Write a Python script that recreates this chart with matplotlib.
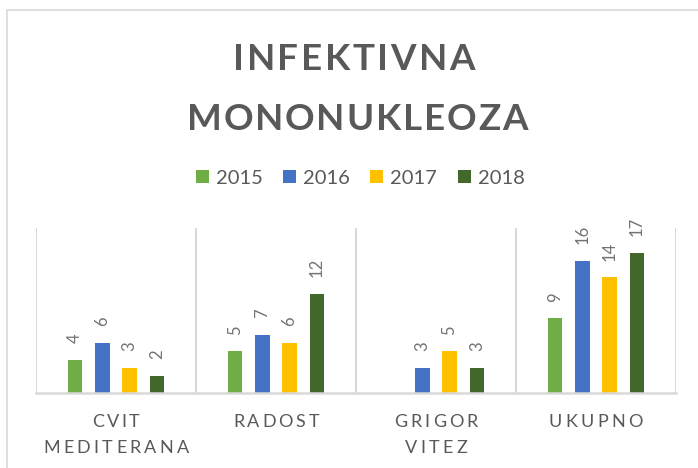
import numpy as np
import matplotlib
matplotlib.use("Agg")
import matplotlib.pyplot as plt
from matplotlib.patches import Rectangle

# data
categories = [["CVIT", "MEDITERANA"], ["RADOST"], ["GRIGOR", "VITEZ"], ["UKUPNO"]]
years = ["2015", "2016", "2017", "2018"]
v2015 = [4, 5, None, 9]
v2016 = [6, 7, 3, 16]
v2017 = [3, 6, 5, 14]
v2018 = [2, 12, 3, 17]
series = [v2015, v2016, v2017, v2018]
colors = ["#70AD47", "#4472C4", "#FFC000", "#43682B"]

W, H = 698, 468
GRAY = "#595959"
LABEL_GRAY = "#737373"
LINE = "#D9D9D9"
plt.rcParams['font.family'] = ['Lato', 'DejaVu Sans']

fig = plt.figure(figsize=(W / 100, H / 100), dpi=100)
renderer = fig.canvas.get_renderer()


def spaced_text(cx, y_base, s, target_w, **kw):
    """Draw letter-spaced text centred on cx (pixels) with baseline y_base (pixels from top)."""
    widths = []
    for ch in s:
        t = fig.text(0, 0, ch, **kw)
        widths.append(t.get_window_extent(renderer).width)
        t.remove()
    gap = (target_w - sum(widths)) / max(len(s) - 1, 1)
    x = cx - target_w / 2
    for ch, w in zip(s, widths):
        fig.text(x / W, 1 - y_base / H, ch, ha='left', va='baseline', **kw)
        x += w + gap


# chart frame (extends past the right/bottom edge like the reference crop)
fig.patches.append(Rectangle((6.5 / W, -0.1), 1.2, 1 - 9.5 / H + 0.1,
                             transform=fig.transFigure, fill=False,
                             edgecolor=LINE, linewidth=1.2))

# title
spaced_text(354, 70, "INFEKTIVNA", 242, fontsize=26.5, fontweight='bold', color=GRAY)
spaced_text(357, 130, "MONONUKLEOZA", 341, fontsize=26.5, fontweight='bold', color=GRAY)

# legend
leg_x = [196, 283, 370, 458]
for lx, yr, c in zip(leg_x, years, colors):
    fig.patches.append(Rectangle((lx / W, 1 - 183 / H), 13 / W, 13 / H,
                                 transform=fig.transFigure, facecolor=c, edgecolor='none'))
    fig.text((lx + 20) / W, 1 - 184 / H, yr, ha='left', va='baseline',
             fontsize=14.5, color=GRAY)

# plot area
ax = fig.add_axes([36 / W, (H - 392.5) / H, 640 / W, (392.5 - 228) / H])
n = len(series)
step = 0.17
bw = 0.09
x = np.arange(len(categories))
for i, (vals, c) in enumerate(zip(series, colors)):
    for xi, v in zip(x, vals):
        if v is None:
            continue
        xp = xi + (i - (n - 1) / 2) * step
        ax.bar(xp, v, width=bw, color=c, zorder=3)
        ax.annotate(str(v), (xp, v), xytext=(0, 12), textcoords='offset points',
                    rotation=90, ha='center', va='bottom', fontsize=12,
                    color=LABEL_GRAY)

ax.set_xlim(-0.5, len(categories) - 0.5)
ax.set_ylim(0, 20)
for b in np.arange(-0.5, len(categories), 1.0):
    ax.axvline(b, color=LINE, linewidth=1.5, zorder=1)
ax.axhline(0, color=LINE, linewidth=1.8, zorder=4, clip_on=False)
for s in ax.spines.values():
    s.set_visible(False)
ax.set_xticks([])
ax.set_yticks([])
ax.patch.set_alpha(0)

# category labels
label_widths = {"CVIT": 47, "MEDITERANA": 146, "RADOST": 86, "GRIGOR": 84,
                "VITEZ": 62, "UKUPNO": 94}
for xi, lines in zip(x, categories):
    cx = 36 + (xi + 0.5) * 160
    for j, line in enumerate(lines):
        spaced_text(cx, 427 + j * 26, line, label_widths[line], fontsize=13, color=GRAY)

fig.savefig("out.png", dpi=100)
